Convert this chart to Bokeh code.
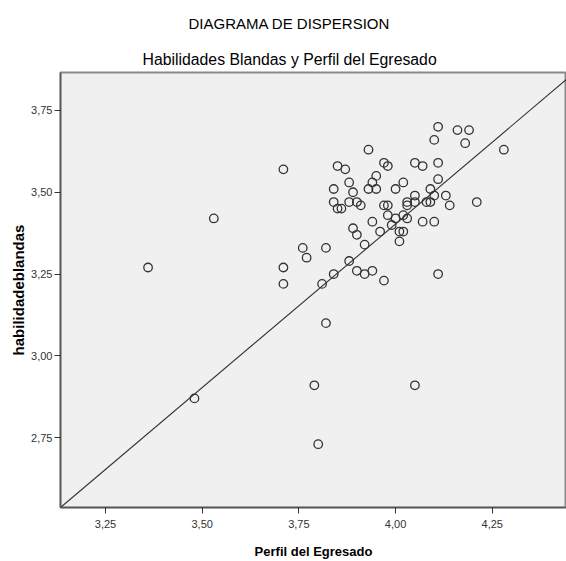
from bokeh.plotting import figure
from bokeh.models import Title, FixedTicker, Range1d
from bokeh.embed import file_html
from bokeh.resources import INLINE

# Data
perfil = [3.93, 3.71, 3.85, 3.87, 3.97, 3.98, 3.95, 3.88, 3.84, 3.93,
          3.94, 3.95, 4.00, 3.89, 3.84, 3.88, 3.90, 3.91, 3.85, 3.86,
          3.97, 3.98, 3.98, 4.00, 3.99, 3.94, 3.89, 3.90, 3.96, 4.01,
          4.01, 3.92, 3.53, 3.76, 3.82, 3.77, 4.11, 4.16, 4.19, 4.18,
          4.10, 4.28, 4.05, 4.07, 4.11, 4.11, 4.02, 4.09, 4.05, 4.10,
          4.13, 4.03, 4.05, 4.03, 4.08, 4.09, 4.14, 4.21, 4.02, 4.03,
          4.07, 4.10, 4.02, 3.71, 3.71, 3.88, 3.84, 3.81, 3.90, 3.92,
          3.94, 3.97, 3.82, 3.79, 3.80, 4.11, 4.05, 3.36, 3.48]
habilidades = [3.63, 3.57, 3.58, 3.57, 3.59, 3.58, 3.55, 3.53, 3.51, 3.51,
               3.53, 3.51, 3.51, 3.50, 3.47, 3.47, 3.47, 3.46, 3.45, 3.45,
               3.46, 3.46, 3.43, 3.42, 3.40, 3.41, 3.39, 3.37, 3.38, 3.38,
               3.35, 3.34, 3.42, 3.33, 3.33, 3.30, 3.70, 3.69, 3.69, 3.65,
               3.66, 3.63, 3.59, 3.58, 3.59, 3.54, 3.53, 3.51, 3.49, 3.49,
               3.49, 3.47, 3.47, 3.46, 3.47, 3.47, 3.46, 3.47, 3.43, 3.42,
               3.41, 3.41, 3.38, 3.27, 3.22, 3.29, 3.25, 3.22, 3.26, 3.25,
               3.26, 3.23, 3.10, 2.91, 2.73, 3.25, 2.91, 3.27, 2.87]

fit_slope = 1.0
fit_intercept = -0.597

x_ticks = [3.25, 3.50, 3.75, 4.00, 4.25]
x_tick_labels = ["3,25", "3,50", "3,75", "4,00", "4,25"]
y_ticks = [2.75, 3.00, 3.25, 3.50, 3.75]
y_tick_labels = ["2,75", "3,00", "3,25", "3,50", "3,75"]

x_lo, x_hi = 3.1336, 4.442
y_lo, y_hi = 2.5366, 3.866

p = figure(width=566, height=561, output_backend="svg", toolbar_location=None,
           x_range=Range1d(x_lo, x_hi), y_range=Range1d(y_lo, y_hi),
           min_border_left=60, min_border_right=0, min_border_top=72,
           min_border_bottom=53)

p.background_fill_color = "#f0f0f0"
p.border_fill_color = "white"
p.outline_line_color = "#8a8a8a"
p.outline_line_width = 2
p.xgrid.visible = False
p.ygrid.visible = False

# Fit line
lx = [x_lo, x_hi]
ly = [fit_intercept + fit_slope * v for v in lx]
p.line(lx, ly, line_color="#333333", line_width=1.1)

p.scatter(perfil, habilidades, marker="circle", size=8.5, fill_color=None,
          line_color="#333333", line_width=1.3)

for ax, ticks, labels in ((p.xaxis[0], x_ticks, x_tick_labels),
                          (p.yaxis[0], y_ticks, y_tick_labels)):
    ax.ticker = FixedTicker(ticks=ticks)
    ax.major_label_overrides = {t: l for t, l in zip(ticks, labels)}
    ax.minor_tick_line_color = None
    ax.major_tick_in = 0
    ax.major_tick_out = 6
    ax.major_tick_line_color = "#333333"
    ax.axis_line_color = "#555555"
    ax.axis_line_width = 1.5
    ax.major_label_text_font = "Liberation Sans"
    ax.major_label_text_font_size = "11px"
    ax.major_label_text_color = "#333333"
    ax.axis_label_text_font = "Liberation Sans"
    ax.axis_label_text_font_style = "bold"
    ax.axis_label_text_color = "black"

p.xaxis.axis_label = "Perfil del Egresado"
p.yaxis.axis_label = "habilidadeblandas"
p.xaxis.axis_label_text_font_size = "13px"
p.yaxis.axis_label_text_font_size = "15px"
p.xaxis.major_label_standoff = 6
p.yaxis.major_label_standoff = 2
p.xaxis.axis_label_standoff = 13
p.yaxis.axis_label_standoff = 1

p.add_layout(Title(text="Habilidades Blandas y Perfil del Egresado", align="left",
                   offset=82, standoff=10, text_font="Liberation Sans",
                   text_font_size="15.8px", text_font_style="normal",
                   text_color="black"), "above")
p.add_layout(Title(text="DIAGRAMA DE DISPERSION", align="left",
                   offset=128, standoff=23, text_font="Liberation Sans",
                   text_font_size="15px", text_font_style="normal",
                   text_color="black"), "above")

open("out.html", "w").write(file_html(p, INLINE))
